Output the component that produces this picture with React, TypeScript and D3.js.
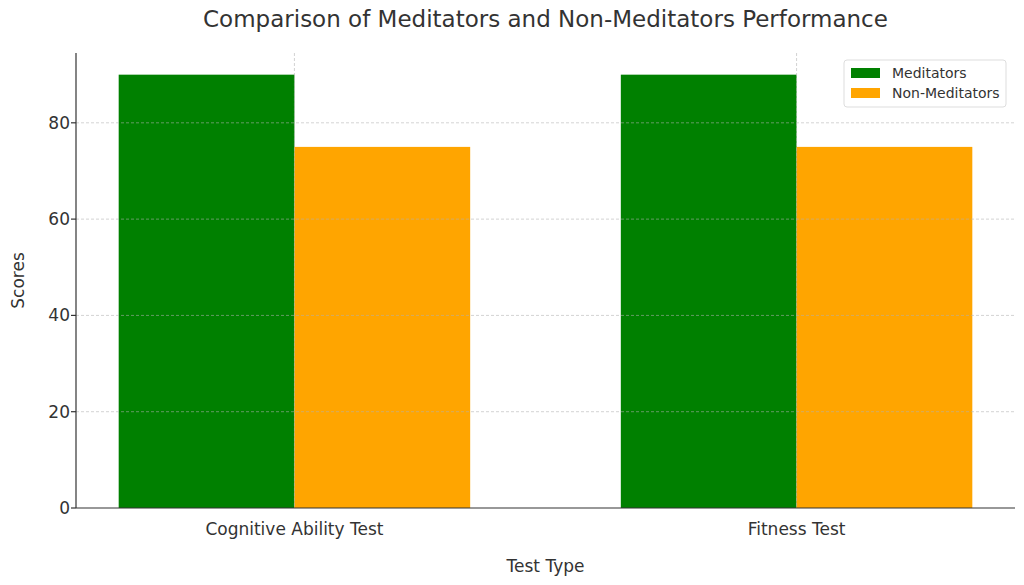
import React from "react";
import * as d3 from "d3";

const categories = ["Cognitive Ability Test", "Fitness Test"];
const seriesNames = ["Meditators", "Non-Meditators"];
const meditators = [90, 90];
const nonMeditators = [75, 75];
const yTicks = [0, 20, 40, 60, 80];
const colors = ["#008000", "#FFA500"];

const W = 1024, H = 585;
const M = { left: 76, right: 1015, top: 53, bottom: 508 };
const barW = 0.35;

export default function App() {
  const x = d3.scaleLinear().domain([-0.435, 1.435]).range([M.left, M.right]);
  const y = d3.scaleLinear().domain([0, 94.5]).range([M.bottom, M.top]);
  const series = [meditators, nonMeditators];
  const font = "DejaVu Sans, sans-serif";
  return (
    <svg width={W} height={H} style={{ position: "absolute", left: 0, top: 0, background: "#fff" }} fontFamily={font}>
      <rect width={W} height={H} fill="#fff" />
      {series.map((vals, si) =>
        vals.map((v, ci) => {
          const x0 = x(ci + (si - 1) * barW);
          const x1 = x(ci + si * barW);
          return <rect key={`${si}-${ci}`} x={x0} y={y(v)} width={x1 - x0} height={y(0) - y(v)} fill={colors[si]} />;
        })
      )}
      {yTicks.filter((t) => t > 0).map((t) => (
        <line key={t} x1={M.left} x2={M.right} y1={y(t)} y2={y(t)} stroke="#b0b0b0" strokeOpacity={0.7} strokeDasharray="3,2" strokeWidth={0.8} />
      ))}
      {categories.map((c, i) => (
        <line key={c} x1={x(i)} x2={x(i)} y1={M.top} y2={M.bottom} stroke="#b0b0b0" strokeOpacity={0.7} strokeDasharray="3,2" strokeWidth={0.8} />
      ))}
      <line x1={M.left} x2={M.left} y1={M.top} y2={M.bottom} stroke="#333" strokeWidth={1.2} />
      <line x1={M.left} x2={M.right} y1={M.bottom} y2={M.bottom} stroke="#333" strokeWidth={1.2} />
      {yTicks.map((t) => (
        <g key={t}>
          <line x1={M.left - 5} x2={M.left} y1={y(t)} y2={y(t)} stroke="#333" strokeWidth={1.2} />
          <text x={M.left - 6} y={y(t)} dy="0.35em" textAnchor="end" fontSize={17} fill="#333">{t}</text>
        </g>
      ))}
      {categories.map((c, i) => (
        <text key={c} x={x(i)} y={535} textAnchor="middle" fontSize={17} fill="#333">{c}</text>
      ))}
      <text x={(M.left + M.right) / 2} y={572} textAnchor="middle" fontSize={17} fill="#333">Test Type</text>
      <text transform={`translate(24,${(M.top + M.bottom) / 2}) rotate(-90)`} textAnchor="middle" fontSize={17} fill="#333">Scores</text>
      <text x={(M.left + M.right) / 2} y={27} textAnchor="middle" fontSize={23} fill="#333">Comparison of Meditators and Non-Meditators Performance</text>
      <g transform="translate(844,60)">
        <rect x={0} y={0} width={162} height={47} fill="#fff" fillOpacity={0.8} stroke="#ddd" rx={3} />
        {seriesNames.map((s, i) => (
          <g key={s} transform={`translate(0,${i * 20})`}>
            <rect x={7} y={8} width={29} height={10} fill={colors[i]} />
            <text x={48} y={13} dy="0.35em" fontSize={14} fill="#333">{s}</text>
          </g>
        ))}
      </g>
    </svg>
  );
}
